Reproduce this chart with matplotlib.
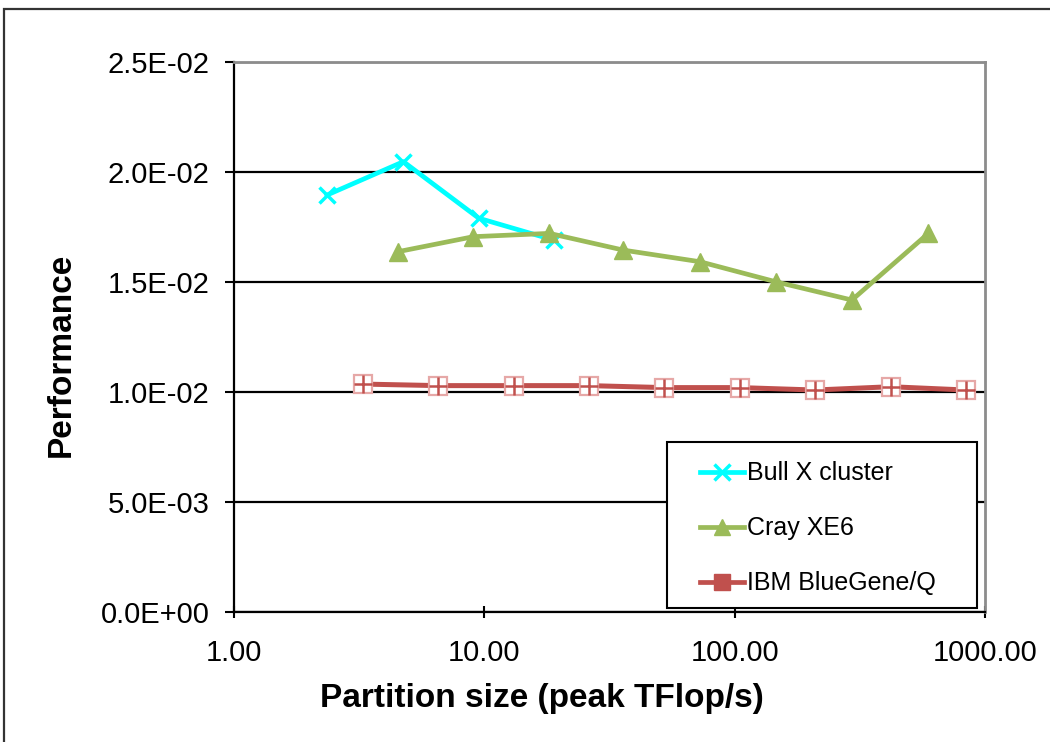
import matplotlib
matplotlib.use("Agg")
import matplotlib.pyplot as plt
from matplotlib.lines import Line2D
from matplotlib.patches import Rectangle
from matplotlib.ticker import FixedLocator, FuncFormatter, NullLocator

plt.rcParams['font.family'] = ['Liberation Sans', 'DejaVu Sans']

# Data (partition size in peak TFlop/s, performance)
bull_x = [2.35, 4.75, 9.5, 19.0]
bull_y = [0.01895, 0.02047, 0.0179, 0.0169]

cray_x = [4.53, 9.04, 18.2, 35.9, 72.8, 146.0, 294.0, 594.0]
cray_y = [0.01638, 0.01706, 0.01721, 0.01645, 0.01592, 0.01501, 0.01418, 0.01721]

ibm_x = [3.28, 6.55, 13.1, 26.2, 52.4, 104.9, 209.7, 419.4, 838.9]
ibm_y = [0.01036, 0.01029, 0.01029, 0.01029, 0.01020, 0.01020, 0.01009, 0.01024, 0.01009]

labels = ["Bull X cluster", "Cray XE6", "IBM BlueGene/Q"]
x_ticks = [1, 10, 100, 1000]
y_ticks = [0.0, 0.005, 0.010, 0.015, 0.020, 0.025]

c_bull = '#00FFFF'
c_cray = '#9BBB59'
c_ibm = '#C0504D'

fig = plt.figure(figsize=(10.5, 7.42), dpi=100)
ax = fig.add_axes([234/1050, 130/742, 751/1050, 550/742])

# chart border (cut off on the right and bottom in the reference)
fig.patches.append(Rectangle((4/1050, -0.1), 1.2, 1.1 - 9/742, transform=fig.transFigure,
                             fill=False, ec='#333333', lw=1.6))

ax.plot(bull_x, bull_y, color=c_bull, lw=3.4, marker='x', ms=11, mew=2.5, zorder=3)
ax.plot(cray_x, cray_y, color=c_cray, lw=3.4, marker='^', ms=13, mec=c_cray, zorder=4)
ax.plot(ibm_x, ibm_y, color=c_ibm, lw=3.6, marker='s', ms=13.5, mfc='white',
        mec='#E6A8A7', mew=1.6, zorder=5)
ax.plot(ibm_x, ibm_y, ls='none', marker='+', ms=13, mew=1.8, color=c_ibm, zorder=6)

ax.set_xscale('log')
ax.set_xlim(1, 1000)
ax.set_ylim(0, 0.025)
ax.xaxis.set_major_locator(FixedLocator(x_ticks))
ax.xaxis.set_minor_locator(NullLocator())
ax.xaxis.set_major_formatter(FuncFormatter(lambda v, p: '{:.2f}'.format(v)))
ax.yaxis.set_major_locator(FixedLocator(y_ticks))
ax.yaxis.set_major_formatter(FuncFormatter(lambda v, p: '{:.1E}'.format(v)))

ax.grid(axis='y', color='black', lw=1.6)
ax.tick_params(axis='y', direction='out', length=6.5, width=1.5, pad=11, labelsize=21)
ax.tick_params(axis='x', direction='inout', length=9, width=1.5, pad=15, labelsize=21)

for s in ['left', 'bottom']:
    ax.spines[s].set_color('black')
    ax.spines[s].set_linewidth(1.6)
for s in ['top', 'right']:
    ax.spines[s].set_color('#8C8C8C')
    ax.spines[s].set_linewidth(2)

ax.set_xlabel("Partition size (peak TFlop/s)", fontsize=24, fontweight='bold')
ax.set_ylabel("Performance", fontsize=24, fontweight='bold')
ax.xaxis.set_label_coords(0.4095, -0.13)
ax.yaxis.set_label_coords(-0.21, 0.467)

# legend box drawn separately so the entries can sit with Excel-like padding
ax.add_patch(Rectangle((0.5766, 0.0073), 0.4128, 0.3018, transform=ax.transAxes,
                       facecolor='white', edgecolor='black', lw=1.5, zorder=9))
handles = [
    Line2D([], [], color=c_bull, lw=3.4, marker='x', ms=11, mew=2.5),
    Line2D([], [], color=c_cray, lw=3.4, marker='^', ms=12),
    Line2D([], [], color=c_ibm, lw=3.4, marker='s', ms=12),
]
leg = ax.legend(handles, labels, loc='upper left', bbox_to_anchor=(0.6205, 0.274),
                fontsize=18, frameon=False, borderpad=0, borderaxespad=0,
                labelspacing=1.24, handlelength=1.75, handletextpad=0.15)
leg.set_zorder(10)

fig.savefig('out.png', dpi=100)
